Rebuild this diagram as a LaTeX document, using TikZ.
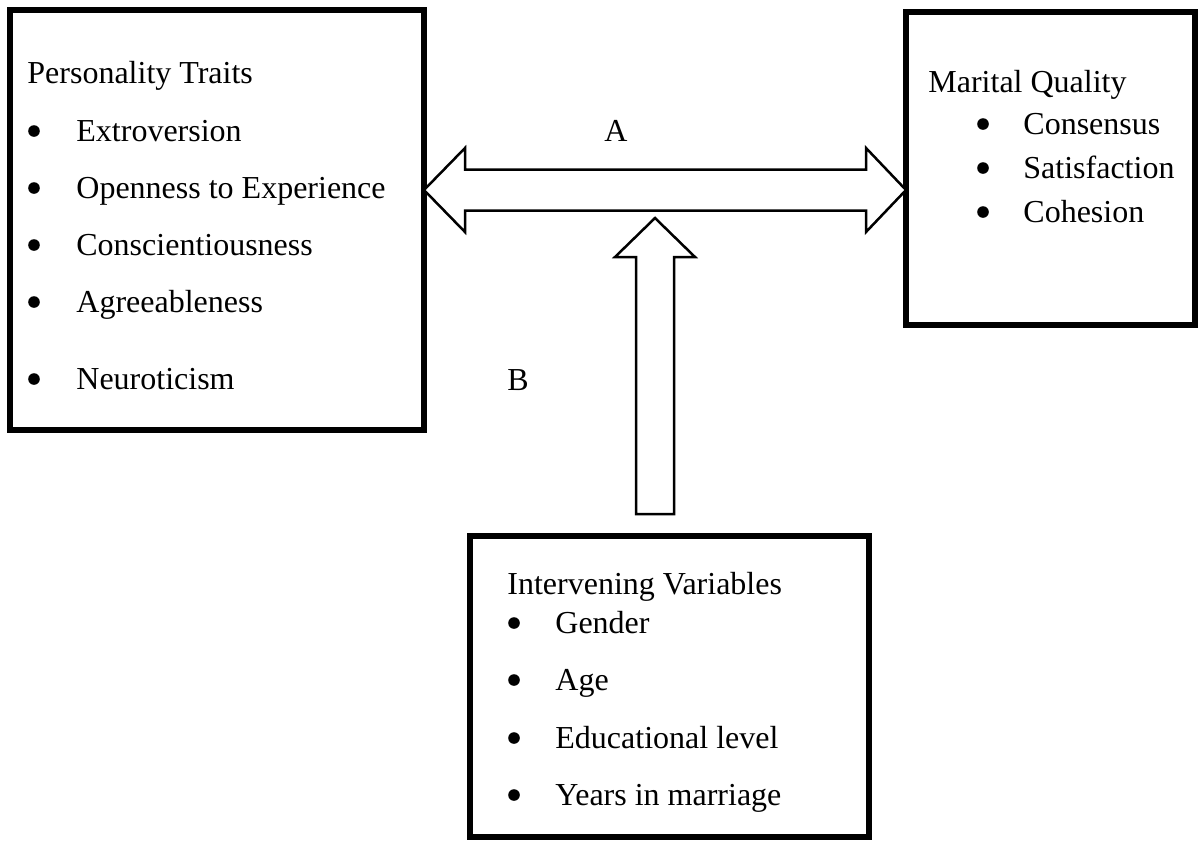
\documentclass[tikz,border=0pt]{standalone}
\usepackage{fontspec}
\setmainfont{Liberation Serif}
\usepackage{tikz}
\usetikzlibrary{positioning,calc}

\tikzset{
  box/.style={draw, line width=3pt, inner sep=0pt, outer sep=0pt, anchor=north west},
  txt/.style={inner sep=0pt, anchor=base west, font=\fontsize{16pt}{19pt}\selectfont},
  dot/.style={circle, fill, inner sep=0pt, minimum size=5.8pt},
  blockarrow/.style={draw, line width=1.25pt, line join=miter, fill=white}
}

\begin{document}
\begin{tikzpicture}[x=0.5pt, y=-0.5pt]
  \useasboundingbox (0,0) rectangle (1198,842);

  % boxes
  \node[box, minimum width=207pt, minimum height=210pt] (traits) at (10,10) {};
  \node[box, minimum width=144.5pt, minimum height=156.5pt] (quality) at (906,12) {};
  \node[box, minimum width=199.5pt, minimum height=150.5pt] (inter) at (470,536) {};

  % personality traits
  \node[txt] (traitsT) at (27,83) {Personality Traits};
  \foreach \t/\y [count=\i] in {Extroversion/141, Openness to Experience/198,
      Conscientiousness/255, Agreeableness/312, Neuroticism/389} {
    \node[dot] (traitsD\i) at (34,\y-10) {};
    \node[txt] (traits\i) at (76,\y) {\t};
  }

  % marital quality
  \node[txt] (qualityT) at (928,92) {Marital Quality};
  \foreach \t/\y [count=\i] in {Consensus/134, Satisfaction/178, Cohesion/222} {
    \node[dot] (qualityD\i) at (983,\y-10) {};
    \node[txt] (quality\i) at (1023,\y) {\t};
  }

  % intervening variables
  \node[txt] (interT) at (507,594) {Intervening Variables};
  \foreach \t/\y [count=\i] in {Gender/633, Age/690, Educational level/748,
      Years in marriage/805} {
    \node[dot] (interD\i) at (514,\y-10) {};
    \node[txt] (inter\i) at (555,\y) {\t};
  }

  % double arrow A
  \coordinate (ltip) at (traits.east |- 0,190);
  \coordinate (rtip) at (quality.west |- 0,190);
  \draw[blockarrow] (ltip) -- ++(41,-42) -- ++(0,21.5) -- ($(rtip)+(-40,-20.5)$)
    -- ++(0,-21.5) -- (rtip) -- ++(-40,42) -- ++(0,-21.5) -- ($(ltip)+(41,20.5)$)
    -- ++(0,21.5) -- cycle;
  \node[txt] (labA) at (604,141) {A};

  % up arrow B
  \coordinate (utip) at (655,218);
  \draw[blockarrow] (utip) -- ++(40,39) -- ++(-21,0) -- ++(0,257) -- ++(-38,0)
    -- ++(0,-257) -- ++(-21,0) -- cycle;
  \node[txt] (labB) at (507,390) {B};
\end{tikzpicture}
\end{document}
